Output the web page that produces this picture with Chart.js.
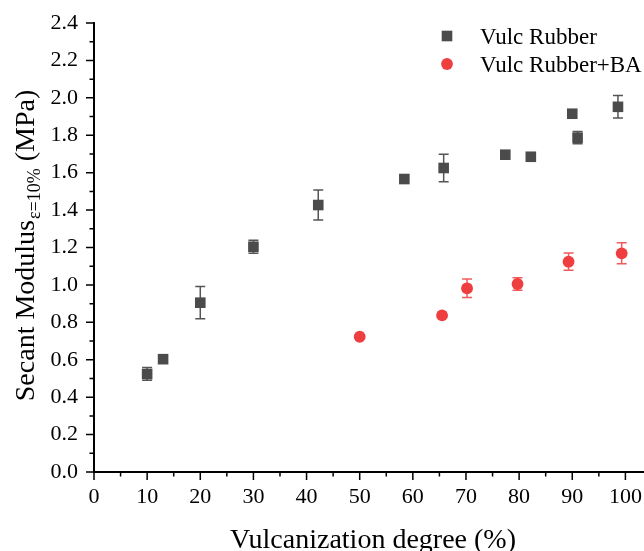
<!DOCTYPE html>
<html>
<head>
<meta charset="utf-8">
<script src="https://cdn.jsdelivr.net/npm/chart.js@4"></script>
<style>
html,body{margin:0;padding:0;background:#fff;}
#wrap{width:644px;height:551px;position:relative;}
</style>
</head>
<body>
<div id="wrap"><canvas id="c" width="644" height="551"></canvas></div>
<script>
// ---- data ----
const seriesNames = ['Vulc Rubber', 'Vulc Rubber+BA'];
const vulcX   = [10.0, 13.0, 20.0, 30.0, 42.2, 58.4, 65.8, 77.4, 82.2, 90.0, 91.0, 98.6];
const vulcY   = [0.524, 0.603, 0.905, 1.204, 1.427, 1.566, 1.625, 1.696, 1.685, 1.915, 1.787, 1.952];
const vulcErr = [0.034, 0, 0.086, 0.035, 0.080, 0, 0.073, 0, 0, 0, 0.033, 0.060];
const baX   = [50.0, 65.5, 70.2, 79.7, 89.3, 99.3];
const baY   = [0.723, 0.837, 0.982, 1.005, 1.124, 1.169];
const baErr = [0, 0, 0.049, 0.033, 0.046, 0.056];
const xTicks = [0, 10, 20, 30, 40, 50, 60, 70, 80, 90, 100];
const xMinorTicks = [5, 15, 25, 35, 45, 55, 65, 75, 85, 95];
const yTicks = [0.0, 0.2, 0.4, 0.6, 0.8, 1.0, 1.2, 1.4, 1.6, 1.8, 2.0, 2.2, 2.4];
const yMinorTicks = [0.1, 0.3, 0.5, 0.7, 0.9, 1.1, 1.3, 1.5, 1.7, 1.9, 2.1, 2.3];
const xTitle = 'Vulcanization degree (%)';
const yTitleMain = 'Secant Modulus';
const yTitleSub = 'ε=10%';
const yTitleEnd = ' (MPa)';

const FONT = '"Liberation Serif", "DejaVu Serif", serif';
const squareColor = '#4b4b4b';
const redColor = '#ef3e40';

function toPts(xs, ys) { return xs.map((x, i) => ({x: x, y: ys[i]})); }

const errPlugin = {
  id: 'errbars',
  beforeDatasetsDraw(chart) {
    const ctx = chart.ctx, xs = chart.scales.x, ys = chart.scales.y;
    const sets = [
      {x: vulcX, y: vulcY, e: vulcErr, c: '#555555'},
      {x: baX, y: baY, e: baErr, c: 'rgba(239,62,64,0.85)'}
    ];
    ctx.save();
    ctx.lineWidth = 1.5;
    sets.forEach(s => {
      ctx.strokeStyle = s.c;
      s.x.forEach((xv, i) => {
        if (!s.e[i]) return;
        const px = xs.getPixelForValue(xv);
        const t = ys.getPixelForValue(s.y[i] + s.e[i]);
        const b = ys.getPixelForValue(s.y[i] - s.e[i]);
        ctx.beginPath();
        ctx.moveTo(px, t); ctx.lineTo(px, b);
        ctx.moveTo(px - 5, t); ctx.lineTo(px + 5, t);
        ctx.moveTo(px - 5, b); ctx.lineTo(px + 5, b);
        ctx.stroke();
      });
    });
    ctx.restore();
  },
  afterDraw(chart) {
    const ctx = chart.ctx, xs = chart.scales.x, ys = chart.scales.y;
    const area = chart.chartArea;
    ctx.save();
    // ticks
    ctx.strokeStyle = '#000';
    ctx.lineWidth = 1.5;
    ctx.beginPath();
    xTicks.forEach(v => { const p = xs.getPixelForValue(v); ctx.moveTo(p, area.bottom); ctx.lineTo(p, area.bottom + 8); });
    xMinorTicks.forEach(v => { const p = xs.getPixelForValue(v); ctx.moveTo(p, area.bottom); ctx.lineTo(p, area.bottom + 4.5); });
    yTicks.forEach(v => { const p = ys.getPixelForValue(v); ctx.moveTo(area.left, p); ctx.lineTo(area.left - 8, p); });
    yMinorTicks.forEach(v => { const p = ys.getPixelForValue(v); ctx.moveTo(area.left, p); ctx.lineTo(area.left - 4.5, p); });
    ctx.stroke();

    // x title
    ctx.fillStyle = '#000';
    ctx.font = '28px ' + FONT;
    ctx.textAlign = 'center';
    ctx.textBaseline = 'alphabetic';
    ctx.fillText(xTitle, 373, 548);

    // y title with subscript
    ctx.save();
    ctx.translate(34, 246);
    ctx.rotate(-Math.PI / 2);
    ctx.textAlign = 'left';
    const mainF = '28px ' + FONT, subF = '18px ' + FONT;
    ctx.font = mainF; const w1 = ctx.measureText(yTitleMain).width; const w3 = ctx.measureText(yTitleEnd).width;
    ctx.font = subF; const w2 = ctx.measureText(yTitleSub).width;
    let x0 = -(w1 + w2 + w3) / 2;
    ctx.font = mainF; ctx.fillText(yTitleMain, x0, 0);
    ctx.font = subF; ctx.fillText(yTitleSub, x0 + w1 + 1, 6);
    ctx.font = mainF; ctx.fillText(yTitleEnd, x0 + w1 + w2 + 1, 0);
    ctx.restore();

    // legend
    const items = [
      {name: seriesNames[0], y: 36, kind: 'rect'},
      {name: seriesNames[1], y: 64, kind: 'circle'}
    ];
    ctx.font = '23px ' + FONT;
    ctx.textAlign = 'left';
    ctx.textBaseline = 'alphabetic';
    items.forEach(it => {
      if (it.kind === 'rect') { ctx.fillStyle = squareColor; ctx.fillRect(447 - 5.3, it.y - 5.3, 10.6, 10.6); }
      else { ctx.fillStyle = redColor; ctx.beginPath(); ctx.arc(447, it.y, 5.9, 0, Math.PI * 2); ctx.fill(); }
      ctx.fillStyle = '#000';
      ctx.fillText(it.name, 480, it.y + 7.5);
    });
    ctx.restore();
  }
};

new Chart(document.getElementById('c'), {
  type: 'scatter',
  data: {
    datasets: [
      {label: seriesNames[0], data: toPts(vulcX, vulcY), pointStyle: 'rect', pointRadius: 7.5,
       backgroundColor: squareColor, borderColor: squareColor, borderWidth: 0, showLine: false},
      {label: seriesNames[1], data: toPts(baX, baY), pointStyle: 'circle', pointRadius: 5.9,
       backgroundColor: redColor, borderColor: redColor, borderWidth: 0, showLine: false}
    ]
  },
  options: {
    responsive: false,
    animation: false,
    devicePixelRatio: 1,
    layout: {autoPadding: false, padding: {top: 23, right: 0, left: 0, bottom: 0}},
    plugins: {legend: {display: false}, tooltip: {enabled: false}},
    scales: {
      x: {
        type: 'linear', min: 0, max: 103.5,
        afterBuildTicks: s => { s.ticks = xTicks.map(v => ({value: v})); },
        afterFit: s => { s.height = 79; s.paddingLeft = 0; s.paddingRight = 0; },
        grid: {display: true, drawOnChartArea: false, drawTicks: true, tickLength: 8, tickColor: 'rgba(0,0,0,0)'},
        border: {display: true, color: '#000', width: 2},
        ticks: {color: '#000', font: {family: FONT, size: 22}, padding: 4, maxRotation: 0, autoSkip: false,
                callback: v => String(v)}
      },
      y: {
        type: 'linear', min: 0, max: 2.4,
        afterBuildTicks: s => { s.ticks = yTicks.map(v => ({value: v})); },
        afterFit: s => { s.width = 94; s.paddingTop = 0; s.paddingBottom = 0; },
        grid: {display: true, drawOnChartArea: false, drawTicks: true, tickLength: 8, tickColor: 'rgba(0,0,0,0)'},
        border: {display: true, color: '#000', width: 2},
        ticks: {color: '#000', font: {family: FONT, size: 22}, padding: 8, autoSkip: false,
                callback: v => Number(v).toFixed(1)}
      }
    }
  },
  plugins: [errPlugin]
});
</script>
</body>
</html>
